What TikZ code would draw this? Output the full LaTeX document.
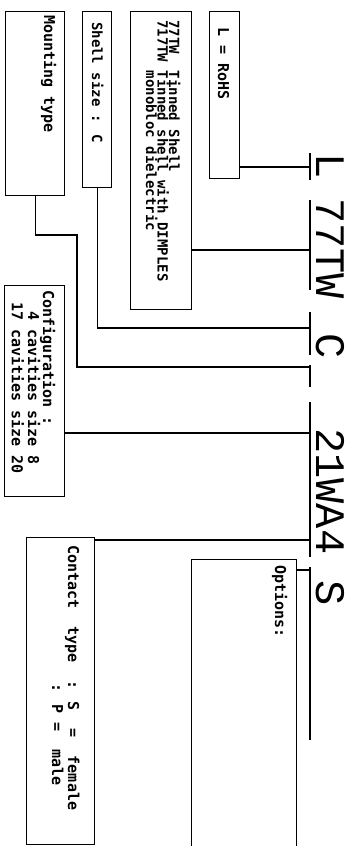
\documentclass[tikz,border=0pt]{standalone}
\usepackage{fontspec}
\usepackage{tikz}
\usetikzlibrary{calc}
\newfontfamily\notefont{DejaVu Sans Mono}
\newfontfamily\codefont{Liberation Mono}

\tikzset{
  partbox/.style={draw,line width=1.4pt,rectangle,inner sep=0pt,anchor=north west},
  note/.style={font=\notefont\bfseries\fontsize{15}{16}\selectfont,rotate=-90,anchor=base west,inner sep=0pt},
  small note/.style={note,font=\notefont\bfseries\fontsize{14}{16}\selectfont},
  code/.style={font=\codefont\fontsize{42}{44}\selectfont,rotate=-90,anchor=base west,inner sep=0pt},
  wire/.style={line width=1.4pt}
}

\begin{document}
\begin{tikzpicture}[x=1pt,y=1pt]
 \useasboundingbox (0,0) rectangle (352,-846);
 % boxes
 \node[partbox,minimum width=30pt,minimum height=167pt] (rohs) at (209,-11) {};
 \node[partbox,minimum width=61pt,minimum height=298pt] (tinned) at (130,-11) {};
 \node[partbox,minimum width=29pt,minimum height=176pt] (shell) at (82,-11) {};
 \node[partbox,minimum width=59pt,minimum height=184pt] (mount) at (5,-11) {};
 \node[partbox,minimum width=60pt,minimum height=211pt] (config) at (4,-285) {};
 \node[partbox,minimum width=68pt,minimum height=307pt] (contact) at (26,-537) {};
 \node[partbox,minimum width=105pt,minimum height=300pt] (options) at (191,-559) {};
 % box texts
 \node[note] (rohsT) at (218,-27) {L = RoHS};
 \node[small note] (tinnedA) at (169,-20) {77TW~~Tinned Shell};
 \node[small note] (tinnedB) at (157.5,-20) {717TW Tinned shell with DIMPLES};
 \node[small note] (tinnedC) at (146,-20) {\phantom{717TW }monobloc dielectric};
 \node[small note] (shellT) at (92,-22) {Shell size : C};
 \node[note] (mountT) at (44,-15) {Mounting type};
 \node[note] (configA) at (43,-290) {Configuration :};
 \node[note] (configB) at (28,-302) {\phantom{1}4 cavities size 8};
 \node[note] (configC) at (12,-302) {17 cavities size 20};
 \node[note] (contactA) at (68,-545) {Contact~~type~~: S~~=~~female};
 \node[note] (contactB) at (52,-683) {: P =~~male};
 \node[note] (optionsT) at (275,-565) {Options:};
 % part number
 \node[code] (cL) at (316,-153) {L};
 \node[code] (cTW) at (316,-198) {77TW};
 \node[code] (cC) at (316,-333) {C};
 \node[code] (cWA) at (316,-428) {21WA4};
 \node[code] (cS) at (316,-580) {S};
 \foreach \a/\b in {153/180,200/290,312/355,365/387,402/557,567/740}
   \draw[wire] (310,-\a) -- (310,-\b);
 % joints on the part number
 \coordinate (jL) at (310,-167);
 \coordinate (jTW) at (310,-250);
 \coordinate (jC) at (310,-328);
 \coordinate (jM) at (310,-367);
 \coordinate (jWA) at (310,-433);
 \coordinate (jS) at (310,-540);
 \coordinate (jO) at (310,-570);
 % connectors
 \draw[wire] (rohs.east |- jL) -- (jL);
 \draw[wire] (tinned.east |- jTW) -- (jTW);
 \draw[wire] (shell.south) |- (jC);
 \draw[wire] (mount.south) |- (77,-235) |- (jM);
 \draw[wire] (config.east |- jWA) -- (jWA);
 \draw[wire] (contact.east |- jS) -- (jS);
 \draw[wire] (options.east |- jO) -- (jO);
\end{tikzpicture}
\end{document}
